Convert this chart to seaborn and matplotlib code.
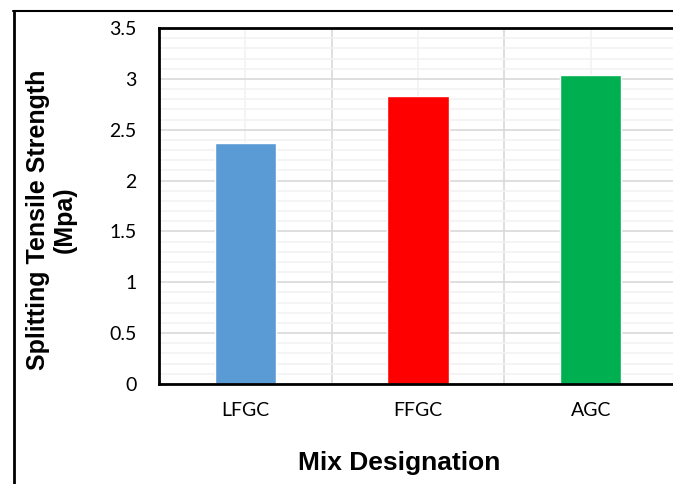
import numpy as np
import pandas as pd
import matplotlib
matplotlib.use('Agg')
import matplotlib.pyplot as plt
from matplotlib.lines import Line2D
from matplotlib.ticker import MultipleLocator
import seaborn as sns

# =====================================================
# DATA
# =====================================================
mixes = ['LFGC', 'FFGC', 'AGC']
strength = [2.37, 2.83, 3.04]
bar_colors = ['#5b9bd5', '#ff0000', '#00b050']

df = pd.DataFrame({'mix': mixes, 'strength': strength})

sns.set_theme(style='white')
plt.rcParams['font.family'] = ['Lato', 'DejaVu Sans']

W, H = 673, 484
fig = plt.figure(figsize=(W / 100, H / 100), dpi=100)

# axes box (right side runs past the picture edge, as in the reference)
left, right, top, bottom = 159, 677, 28, 384
ax = fig.add_axes([left / W, (H - bottom) / H, (right - left) / W, (bottom - top) / H])

sns.barplot(ax=ax, data=df, x='mix', y='strength', hue='mix',
            palette=bar_colors, width=0.354, legend=False, saturation=1)

ax.set_ylim(0, 3.5)
ax.set_xlim(-0.5, 2.5)
ax.yaxis.set_minor_locator(MultipleLocator(0.1))
ax.set_yticks([0, 0.5, 1, 1.5, 2, 2.5, 3, 3.5])
ax.set_yticklabels(['0', '0.5', '1', '1.5', '2', '2.5', '3', '3.5'])
ax.set_xticks([0.5, 1.5], minor=True)

ax.grid(which='major', axis='y', color='#d9d9d9', linewidth=1.2)
ax.grid(which='minor', axis='y', color='#f2f2f2', linewidth=1.2)
ax.grid(which='major', axis='x', color='#f2f2f2', linewidth=1.2)
ax.grid(which='minor', axis='x', color='#d9d9d9', linewidth=1.2)
ax.set_axisbelow(True)

for s in ['left', 'top', 'bottom', 'right']:
    ax.spines[s].set_color('black')
    ax.spines[s].set_linewidth(2)

ax.tick_params(which='both', length=0)
ax.tick_params(axis='y', labelsize=14, pad=16, colors='black')
ax.tick_params(axis='x', labelsize=14, pad=13, colors='black')

ax.set_xlabel('')
ax.set_ylabel('')

fig.text(399 / W, 1 - 463 / H, 'Mix Designation', ha='center', va='center',
         fontsize=19, fontweight='bold', color='black', family=['Liberation Sans'])
fig.text(51 / W, 1 - 220 / H, 'Splitting Tensile Strength\n(Mpa)', ha='center',
         va='center', rotation=90, fontsize=18, fontweight='bold', color='black',
         linespacing=1.15, family=['Liberation Sans'])

# outer chart border (top and left edge)
fig.add_artist(Line2D([13 / W, 1], [1 - 11 / H, 1 - 11 / H], color='black', lw=1.5))
fig.add_artist(Line2D([14 / W, 14 / W], [0, 1 - 11 / H], color='black', lw=2))

fig.savefig('out.png', dpi=100)
